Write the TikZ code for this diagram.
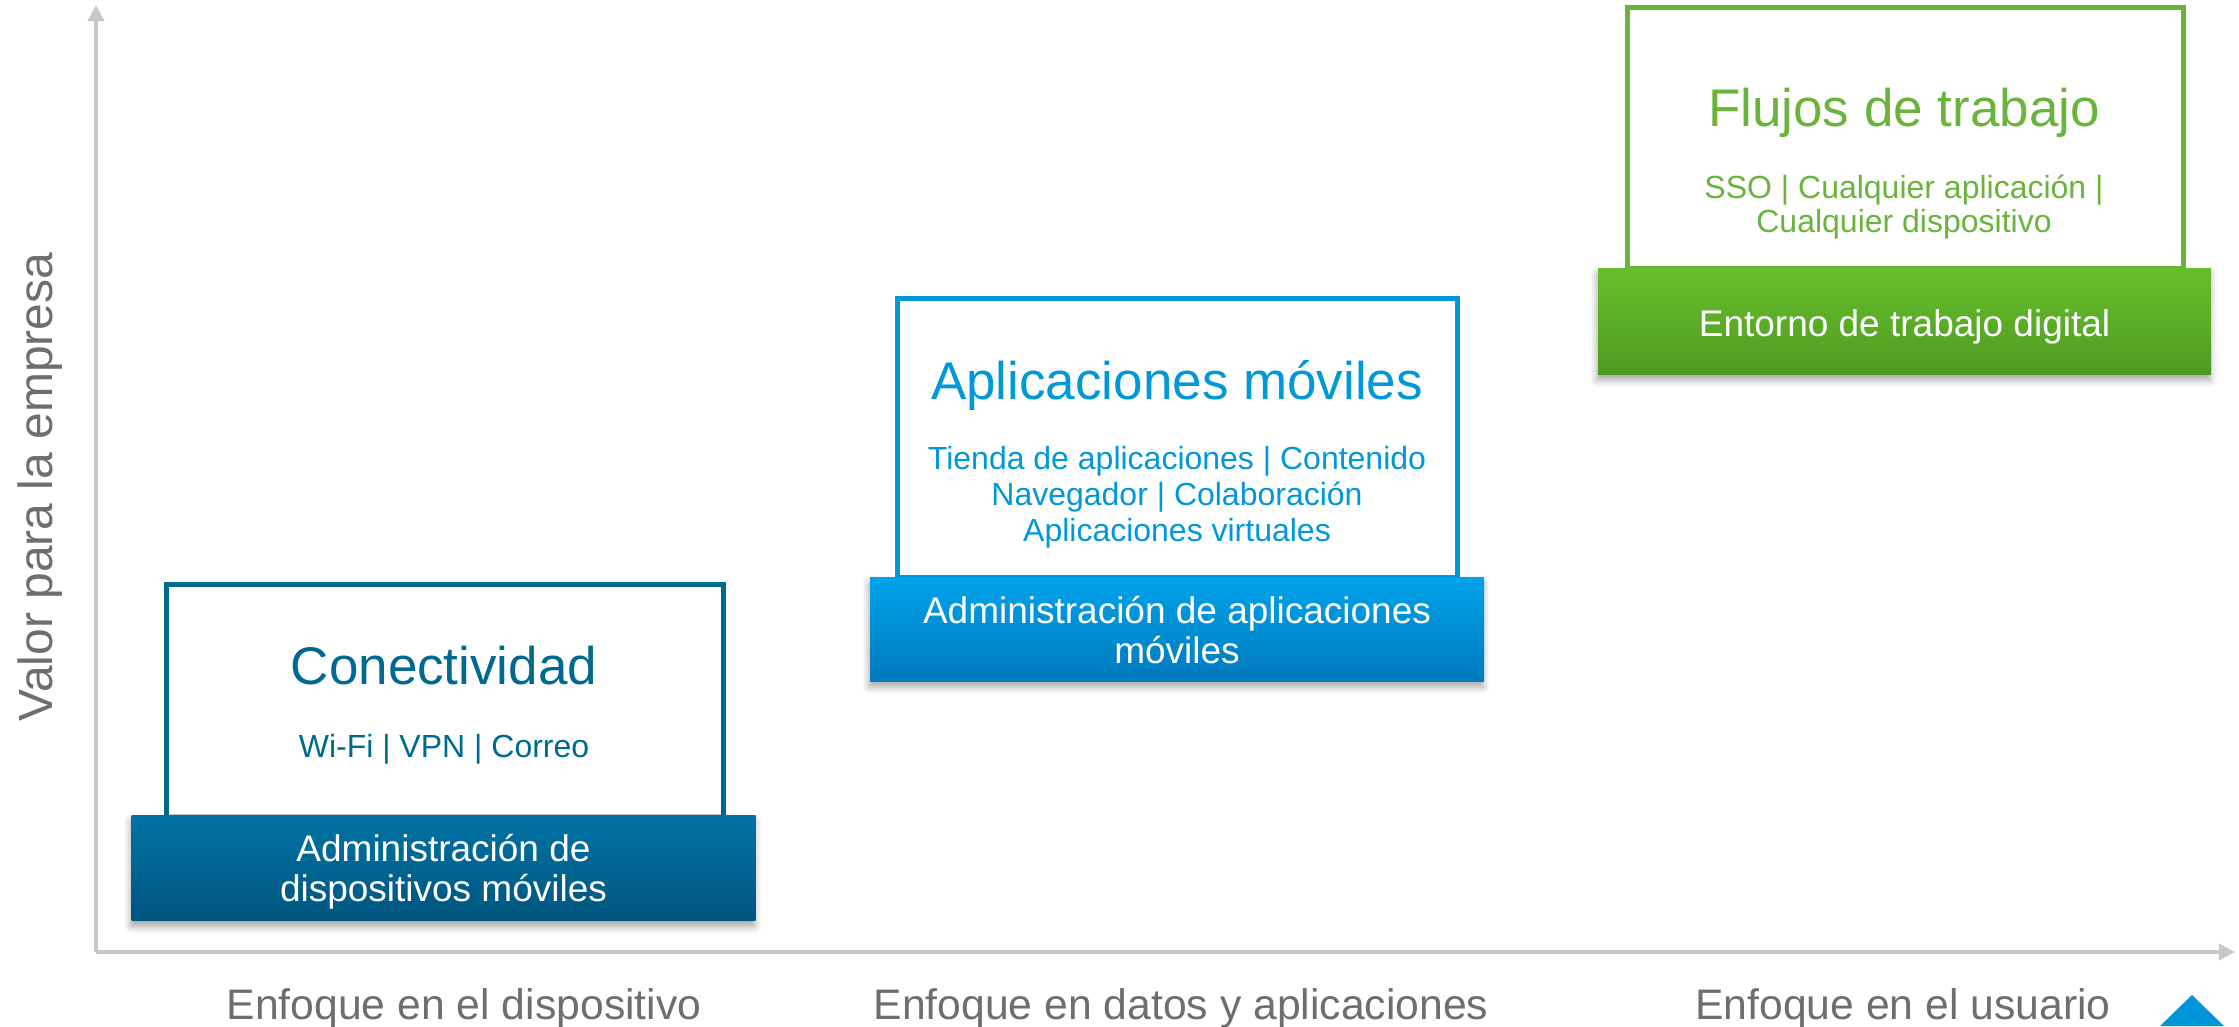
\documentclass[tikz,border=0pt]{standalone}
\usepackage{fontspec}
\setmainfont{Liberation Sans}
\usetikzlibrary{arrows.meta,shadows.blur}
\definecolor{axisgray}{HTML}{C8C8C8}
\definecolor{labelgray}{HTML}{6E6E70}
\definecolor{tealc}{HTML}{00698F}
\definecolor{tealtop}{HTML}{0073A4}
\definecolor{tealbot}{HTML}{00557F}
\definecolor{bluec}{HTML}{0098D8}
\definecolor{bluetop}{HTML}{00A3EB}
\definecolor{bluebot}{HTML}{0079BD}
\definecolor{greenc}{HTML}{6AB43E}
\definecolor{greentop}{HTML}{66C02B}
\definecolor{greenbot}{HTML}{4F9A22}
\definecolor{tric}{HTML}{0095D8}
\tikzset{
  axisline/.style={draw=axisgray, line width=4pt, -{Triangle[length=16pt,width=16pt]}},
  axislabel/.style={text=labelgray, font=\fontsize{42.7}{48}\selectfont, anchor=base, inner sep=0pt},
  outlinebox/.style={draw=#1, line width=5pt, fill=white, inner sep=0pt},
  barbox/.style={inner sep=0pt,
    blur shadow={shadow xshift=-1pt, shadow yshift=-6pt, shadow blur radius=7pt, shadow opacity=35}},
  bartext/.style={inner sep=0pt, text=white, align=center, font=\fontsize{37}{40}\selectfont},
  titletext/.style={text=#1, font=\fontsize{53}{60}\selectfont, anchor=base, inner sep=0pt},
  subtext/.style={text=#1, font=\fontsize{32}{36}\selectfont, align=center, inner sep=0pt},
}
\begin{document}
\begin{tikzpicture}[x=1pt,y=-1pt]
\useasboundingbox (0,0) rectangle (2239,1026);
% axes
\coordinate (origin) at (96,952);
\coordinate (ytop) at (96,5);
\coordinate (xend) at (2235,952);
\draw[axisline] (origin) -- (ytop);
\draw[axisline] (origin) -- (xend);
\node[axislabel, font=\fontsize{48}{54}\selectfont, rotate=90] (ylab) at (52,487) {Valor para la empresa};
\node[axislabel] (xl1) at (464,1019) {Enfoque en el dispositivo};
\node[axislabel] (xl2) at (1181,1019) {Enfoque en datos y aplicaciones};
\node[axislabel] (xl3) at (1903,1019) {Enfoque en el usuario};
% box 1
\node[outlinebox=tealc, minimum width=557pt, minimum height=233pt] (o1) at (444.5,700.5) {};
\node[barbox, top color=tealtop, bottom color=tealbot, minimum width=624pt, minimum height=105pt] (b1) at (443.5,868) {};
\node[bartext] (b1t) at (443.5,872) {Administración de\\dispositivos móviles};
\node[titletext=tealc] (t1) at (444,684) {Conectividad};
\node[subtext=tealc, anchor=base] (s1) at (444,757) {Wi-Fi | VPN | Correo};
% box 2
\node[outlinebox=bluec, minimum width=560pt, minimum height=279pt] (o2) at (1177,438) {};
\node[barbox, top color=bluetop, bottom color=bluebot, minimum width=614pt, minimum height=104pt] (b2) at (1177,629) {};
\node[bartext] (b2t) at (1177,630) {Administración de aplicaciones\\móviles};
\node[titletext=bluec] (t2) at (1177,399) {Aplicaciones móviles};
\node[subtext=bluec] (s2) at (1177,497) {Tienda de aplicaciones | Contenido\\Navegador | Colaboración\\Aplicaciones virtuales};
% box 3
\node[outlinebox=greenc, minimum width=556pt, minimum height=261pt] (o3) at (1905,137.5) {};
\node[barbox, top color=greentop, bottom color=greenbot, minimum width=613pt, minimum height=106pt] (b3) at (1904.5,321) {};
\node[bartext] (b3t) at (1904.5,327) {Entorno de trabajo digital};
\node[titletext=greenc] (t3) at (1904,126) {Flujos de trabajo};
\node[subtext=greenc, font=\fontsize{32}{34}\selectfont] (s3) at (1904,207) {SSO | Cualquier aplicación |\\Cualquier dispositivo};
% corner triangle
\fill[tric] (2160,1026) -- (2192,995) -- (2224,1026) -- cycle;
\end{tikzpicture}
\end{document}
